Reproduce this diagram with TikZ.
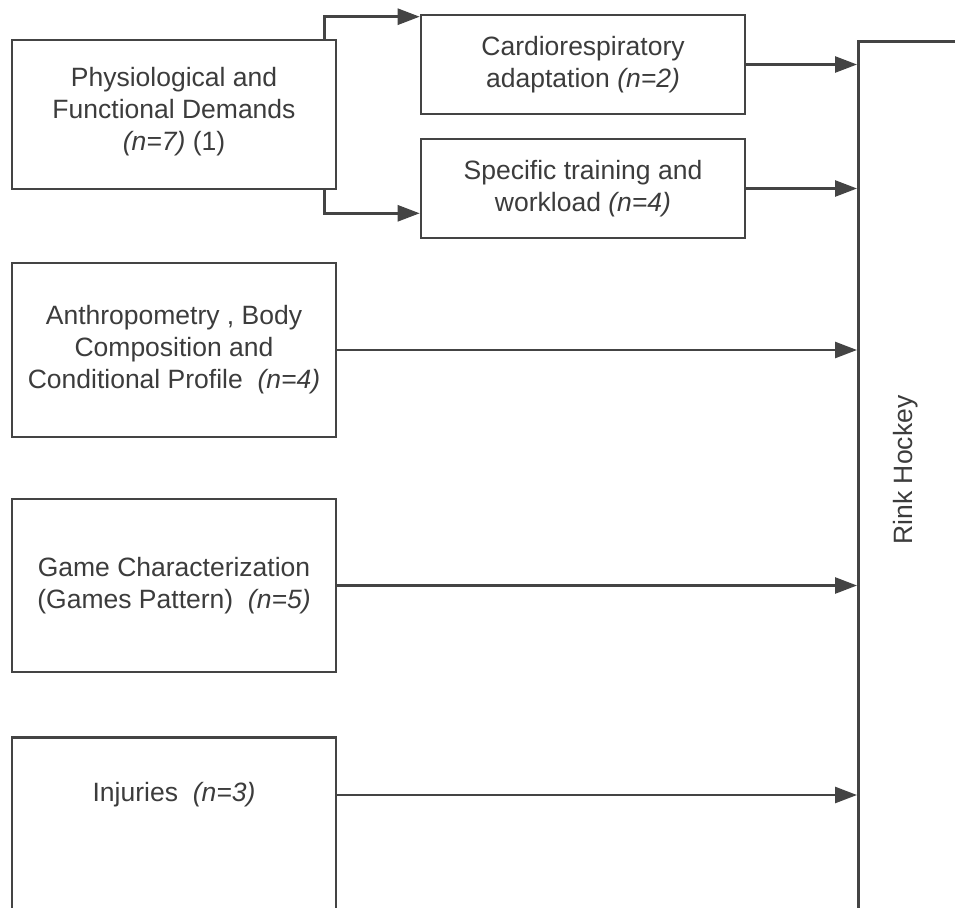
\documentclass[tikz,border=0pt]{standalone}
\usepackage{fontspec}
\setmainfont{Liberation Sans}
\usetikzlibrary{arrows.meta}
\definecolor{linegray}{HTML}{444444}
\definecolor{textgray}{HTML}{3C3C3C}
\begin{document}
\begin{tikzpicture}[x=1pt,y=-1pt,
    box/.style={draw=linegray,line width=2.6pt,minimum width=324pt,inner sep=0pt,
      text=textgray,align=center,font=\fontsize{26.5}{32}\selectfont},
    label/.style={text=textgray,align=center,font=\fontsize{26.5}{32}\selectfont},
    arr/.style={draw=linegray,line width=2.6pt,-{Triangle[length=22pt,width=16pt]}}]
    \useasboundingbox (0,0) rectangle (955,907);
    \clip (0,0) rectangle (955,907);
    \fill[white] (0,0) rectangle (955,907);

    \node[box,minimum height=149pt] (phys) at (174,114.5) {Physiological and\\Functional Demands\\\textit{(n=7)} (1)\\[-20pt]};
    \node[box,minimum height=99pt] (cardio) at (583,64.5) {Cardiorespiratory\\adaptation \textit{(n=2)}};
    \node[box,minimum height=99pt] (specific) at (583,188.5) {Specific training and\\workload \textit{(n=4)}};
    \node[box,minimum height=174pt] (anthro) at (174,350) {Anthropometry , Body\\Composition and\\Conditional Profile~ \textit{(n=4)}};
    \node[box,minimum height=173pt] (game) at (174,585.5) {Game Characterization\\(Games Pattern)~ \textit{(n=5)}};
    \node[box,minimum height=200pt,anchor=north] (inj) at (174,736) {};
    \node[label] (injtext) at (174,795) {Injuries~ \textit{(n=3)}};
    \node[box,minimum width=100pt,minimum height=900pt,anchor=north west] (rink) at (857,40) {};
    \node[label,rotate=90] (rinktext) at (906,470) {Rink Hockey};

    \draw[arr] ([xshift=-13pt]phys.north east) |- ([yshift=-3pt]cardio.north west);
    \draw[arr] ([xshift=-13pt]phys.south east) |- ([yshift=26pt]specific.south west);
    \draw[arr] (cardio.east) -- (cardio.east -| rink.west);
    \draw[arr] (specific.east) -- (specific.east -| rink.west);
    \draw[arr] (anthro.east) -- (anthro.east -| rink.west);
    \draw[arr] (game.east) -- (game.east -| rink.west);
    \draw[arr] (inj.east |- injtext) -- (injtext -| rink.west);
\end{tikzpicture}
\end{document}
